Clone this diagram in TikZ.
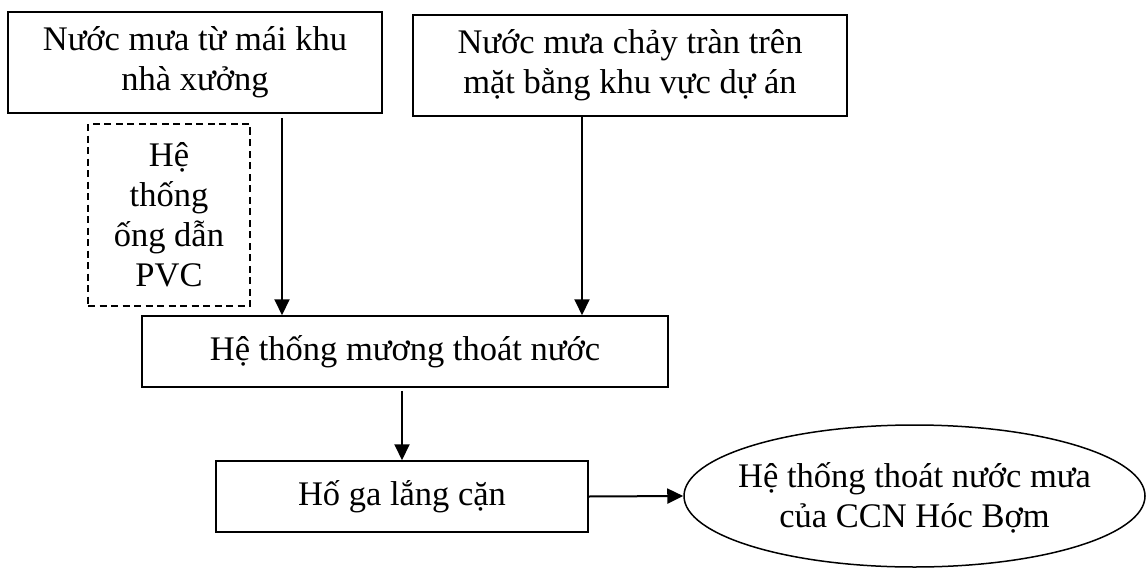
\documentclass[tikz,border=0pt]{standalone}
\usepackage{fontspec}
\setmainfont{Liberation Serif}
\usetikzlibrary{arrows.meta,shapes.geometric}
\begin{document}
\begin{tikzpicture}[x=1pt,y=-1pt,
  txt/.style={font=\fontsize{34.5}{40}\selectfont, align=center, inner sep=0pt},
  box/.style={txt, draw, line width=1.5pt, rectangle},
  dbox/.style={txt, draw, line width=1.2pt, dash pattern=on 7pt off 4.5pt},
  ell/.style={txt, draw, line width=1.5pt, ellipse},
  arr/.style={line width=2pt, -{Triangle[length=16pt,width=15pt]}}]
\useasboundingbox (0,0) rectangle (1147,567);
\node[box, minimum width=374pt, minimum height=101pt] (b1) at (195,62.5) {Nước mưa từ mái khu\\nhà xưởng};
\node[box, minimum width=434pt, minimum height=101pt] (b2) at (630,65.5) {Nước mưa chảy tràn trên\\mặt bằng khu vực dự án};
\node[dbox, minimum width=162pt, minimum height=182pt] (pvc) at (169,215) {Hệ\\thống\\ống dẫn\\PVC};
\node[box, minimum width=526pt, minimum height=71pt] (b3) at (405,351.5) {Hệ thống mương thoát nước};
\node[box, minimum width=372pt, minimum height=71pt] (b4) at (402,496.5) {Hố ga lắng cặn};
\node[ell, minimum width=461pt, minimum height=142pt] (e) at (914.5,496) {};
\node[txt] (et) at (914.5,498) {Hệ thống thoát nước mưa\\của CCN Hóc Bợm};
\coordinate (x1) at (282,0);
\coordinate (x2) at (582,0);
\coordinate (x3) at (402,0);
\draw[arr, shorten <=4pt] (x1 |- b1.south) -- (x1 |- b3.north);
\draw[arr] (x2 |- b2.south) -- (x2 |- b3.north);
\draw[arr, shorten <=3pt] (x3 |- b3.south) -- (x3 |- b4.north);
\draw[arr] (b4.east) -- (e.west);
\end{tikzpicture}
\end{document}
